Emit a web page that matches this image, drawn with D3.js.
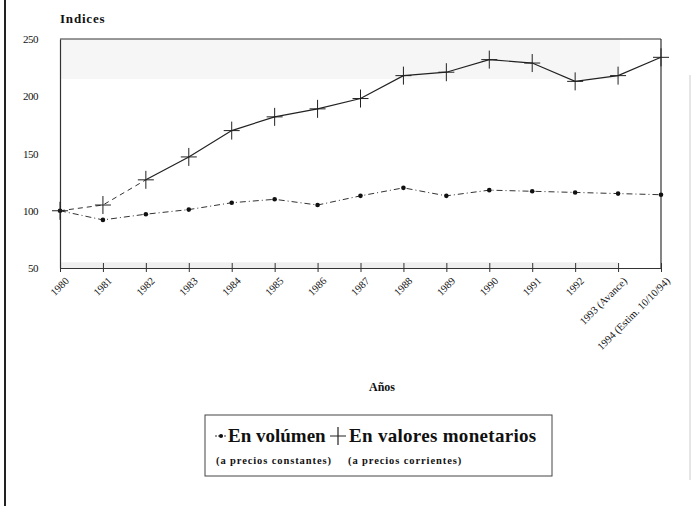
<!DOCTYPE html>
<html>
<head>
<meta charset="utf-8">
<script src="https://cdn.jsdelivr.net/npm/d3@7"></script>
<style>
  body { margin: 0; background: #fff; }
  svg { font-family: "Liberation Serif", "DejaVu Serif", serif; }
</style>
</head>
<body>
<svg id="chart" width="691" height="506"></svg>
<script>
// years (categories)
var years = ["1980", "1981", "1982", "1983", "1984", "1985", "1986", "1987",
             "1988", "1989", "1990", "1991", "1992", "1993 (Avance)", "1994 (Estim. 10/10/94)"];

// indices, 1980 = 100
var volumen = [100, 92, 97, 101, 107, 110, 105, 113, 120, 113, 118, 117, 116, 115, 114];
var monetarios = [100, 105, 127, 147, 170, 182, 189, 198, 218, 221, 232, 229, 213, 218, 234];

var yTicks = [50, 100, 150, 200, 250];

var svg = d3.select("#chart");
var margin = {left: 60, right: 30, top: 39, bottom: 238};
var width = 691 - margin.left - margin.right,
    height = 506 - margin.top - margin.bottom;

// scanned page borders
svg.append("line").attr("x1", 5).attr("x2", 5).attr("y1", 0).attr("y2", 506)
  .attr("stroke", "#222").attr("stroke-width", 2);
svg.append("line").attr("x1", 690).attr("x2", 690).attr("y1", 75).attr("y2", 480)
  .attr("stroke", "#ccc").attr("stroke-width", 1);

var g = svg.append("g").attr("transform", "translate(" + margin.left + "," + margin.top + ")");

var x = d3.scalePoint().domain(years).range([0, width]);
var y = d3.scaleLinear().domain([50, 250]).range([height, 0]);

// light grey bands from the scan
g.append("rect")
  .attr("x", 0).attr("y", y(250))
  .attr("width", x(years[13]) + 2).attr("height", y(215) - y(250))
  .attr("fill", "#f6f6f6");
g.append("rect")
  .attr("x", 0).attr("y", y(55))
  .attr("width", x(years[13])).attr("height", y(50) - y(55))
  .attr("fill", "#efefef");

// frame: top and right lines
g.append("line").attr("x1", 0).attr("x2", width).attr("y1", 0).attr("y2", 0)
  .attr("stroke", "#333").attr("stroke-width", 1.2);
g.append("line").attr("x1", width).attr("x2", width).attr("y1", 0).attr("y2", height)
  .attr("stroke", "#333").attr("stroke-width", 1.2);

// x axis
var xAxis = g.append("g")
  .attr("transform", "translate(0," + height + ")")
  .call(d3.axisBottom(x).tickSize(5).tickSizeOuter(0));
xAxis.select(".domain").attr("stroke", "#333").attr("stroke-width", 1.2);
xAxis.selectAll(".tick line").attr("stroke", "#333").attr("y1", -5).attr("y2", 4);
xAxis.selectAll(".tick text")
  .attr("font-family", "Liberation Serif, serif")
  .attr("font-size", 10.5)
  .attr("fill", "#111")
  .attr("text-anchor", "end")
  .attr("dx", "-0.1em")
  .attr("dy", "0.3em")
  .attr("transform", "translate(2,5) rotate(-45)");

// y axis
var yAxis = g.append("g")
  .call(d3.axisLeft(y).tickValues(yTicks).tickSize(0).tickPadding(22));
yAxis.select(".domain").attr("stroke", "#333").attr("stroke-width", 1.2);
yAxis.selectAll(".tick text")
  .attr("font-family", "Liberation Serif, serif")
  .attr("font-size", 11)
  .attr("fill", "#111")
  .attr("letter-spacing", "-0.5");

// title
svg.append("text").attr("x", 60).attr("y", 23)
  .attr("font-size", 13).attr("font-weight", "bold").attr("fill", "#111")
  .attr("letter-spacing", "0.8")
  .text("Indices");

// lines
var line = d3.line()
  .x(function(d, i) { return x(years[i]); })
  .y(function(d) { return y(d); });

g.append("path").datum(volumen)
  .attr("d", line)
  .attr("fill", "none").attr("stroke", "#333").attr("stroke-width", 1)
  .attr("stroke-dasharray", "6,3,1,3");

// first segments of monetarios are dashed in the print, rest solid
g.append("path").datum(monetarios.slice(0, 3))
  .attr("d", line)
  .attr("fill", "none").attr("stroke", "#333").attr("stroke-width", 1)
  .attr("stroke-dasharray", "5,4");
g.append("path").datum(monetarios)
  .attr("d", d3.line()
    .defined(function(d, i) { return i >= 2; })
    .x(function(d, i) { return x(years[i]); })
    .y(function(d) { return y(d); }))
  .attr("fill", "none").attr("stroke", "#222").attr("stroke-width", 1.2);

// markers
g.selectAll(".dot").data(volumen).enter().append("circle")
  .attr("class", "dot")
  .attr("cx", function(d, i) { return x(years[i]); })
  .attr("cy", function(d) { return y(d); })
  .attr("r", 2.3).attr("fill", "#111");

g.selectAll(".cross").data(monetarios).enter().append("path")
  .attr("class", "cross")
  .attr("transform", function(d, i) { return "translate(" + x(years[i]) + "," + y(d) + ")"; })
  .attr("d", "M-8,0H8M0,-9V9")
  .attr("stroke", "#222").attr("stroke-width", 1);

// x axis title
svg.append("text").attr("x", 382).attr("y", 391)
  .attr("text-anchor", "middle").attr("font-size", 12).attr("font-weight", "bold")
  .attr("fill", "#111").text("Años");

// legend
var lg = svg.append("g").attr("transform", "translate(205,415)");
lg.append("rect").attr("x", 0).attr("y", 0).attr("width", 347).attr("height", 61)
  .attr("fill", "#fff").attr("stroke", "#444").attr("stroke-width", 1);
lg.append("line").attr("x1", 10).attr("x2", 21).attr("y1", 21).attr("y2", 21)
  .attr("stroke", "#333").attr("stroke-dasharray", "2,1");
lg.append("circle").attr("cx", 16).attr("cy", 21).attr("r", 2).attr("fill", "#111");
lg.append("text").attr("x", 23).attr("y", 27)
  .attr("font-size", 19).attr("font-weight", "bold").attr("fill", "#111")
  .text("En volúmen");
lg.append("path").attr("transform", "translate(133,21)")
  .attr("d", "M-8,0H8M0,-9V9").attr("stroke", "#222").attr("stroke-width", 1.2);
lg.append("text").attr("x", 144).attr("y", 27)
  .attr("font-size", 19).attr("font-weight", "bold").attr("fill", "#111")
  .attr("letter-spacing", "0.3")
  .text("En valores monetarios");
lg.append("text").attr("x", 11).attr("y", 49)
  .attr("font-size", 10.5).attr("font-weight", "bold").attr("fill", "#111")
  .attr("letter-spacing", "0.9")
  .text("(a precios constantes)");
lg.append("text").attr("x", 143).attr("y", 49)
  .attr("font-size", 10.5).attr("font-weight", "bold").attr("fill", "#111")
  .attr("letter-spacing", "0.9")
  .text("(a precios corrientes)");
</script>
</body>
</html>
